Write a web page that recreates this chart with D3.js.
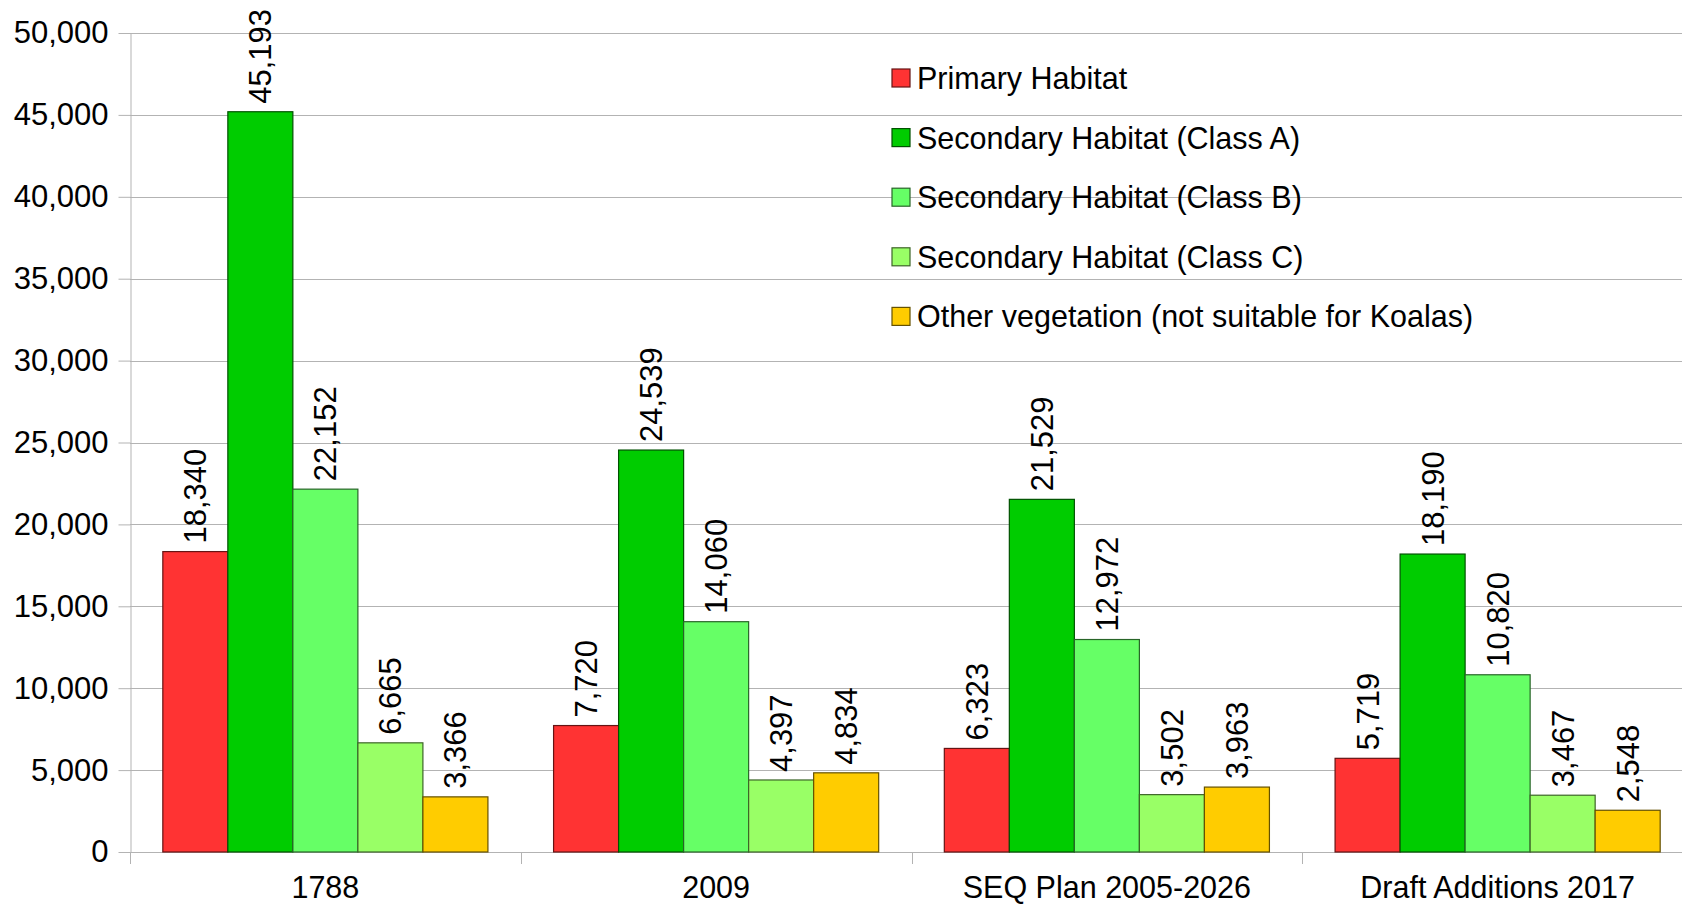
<!DOCTYPE html>
<html>
<head>
<meta charset="utf-8">
<script src="https://cdn.jsdelivr.net/npm/d3@7"></script>
<style>
  body { margin: 0; background: white; }
  text { font-family: "Liberation Sans", Arial, sans-serif; fill: black; }
</style>
</head>
<body>
<svg id="chart" width="1682" height="905"></svg>
<script>

var categories = ["1788", "2009", "SEQ Plan 2005-2026", "Draft Additions 2017"];
var series = ["Primary Habitat", "Secondary Habitat (Class A)", "Secondary Habitat (Class B)",
              "Secondary Habitat (Class C)", "Other vegetation (not suitable for Koalas)"];
var colors = ["#ff3333", "#00cc00", "#66ff66", "#99ff66", "#ffcc00"];

var primary = [18340, 7720, 6323, 5719];
var classA  = [45193, 24539, 21529, 18190];
var classB  = [22152, 14060, 12972, 10820];
var classC  = [6665, 4397, 3502, 3467];
var other   = [3366, 4834, 3963, 2548];

var yTicks = [0, 5000, 10000, 15000, 20000, 25000, 30000, 35000, 40000, 45000, 50000];

var values = [primary, classA, classB, classC, other];

var svg = d3.select("#chart");

var plotLeft = 130, plotRight = 1693, plotTop = 33, plotBottom = 852;

var x = d3.scaleBand()
    .domain(categories)
    .range([plotLeft, plotRight]);

var pad = x.bandwidth() * 0.084;
var xSub = d3.scaleBand()
    .domain(series)
    .range([pad, x.bandwidth() - pad]);

var y = d3.scaleLinear()
    .domain([0, 50000])
    .range([plotBottom, plotTop]);

var fmt = d3.format(",");

/* grid lines */
svg.append("g")
    .selectAll("line")
    .data(yTicks)
    .join("line")
    .attr("x1", plotLeft)
    .attr("x2", 1682)
    .attr("y1", function(d){ return Math.round(y(d)) + 0.5; })
    .attr("y2", function(d){ return Math.round(y(d)) + 0.5; })
    .attr("stroke", "#b3b3b3")
    .attr("stroke-width", 1);

/* y axis */
var yAxis = d3.axisLeft(y)
    .tickValues(yTicks)
    .tickFormat(fmt)
    .tickSize(12)
    .tickSizeOuter(0)
    .tickPadding(10);

var gy = svg.append("g")
    .attr("transform", "translate(" + (plotLeft + 0.5) + ",0)")
    .call(yAxis);
gy.select(".domain").attr("stroke", "#b3b3b3");
gy.selectAll(".tick line").attr("stroke", "#b3b3b3");
gy.selectAll(".tick text")
    .attr("font-size", 31)
    .attr("font-family", "Liberation Sans, Arial, sans-serif")
    .attr("fill", "black");

/* x axis category boundaries */
var bounds = categories.map(function(c){ return x(c); }).concat([plotRight]);
svg.append("g")
    .selectAll("line")
    .data(bounds)
    .join("line")
    .attr("x1", function(d){ return Math.round(d) + 0.5; })
    .attr("x2", function(d){ return Math.round(d) + 0.5; })
    .attr("y1", plotBottom)
    .attr("y2", plotBottom + 12)
    .attr("stroke", "#b3b3b3");

svg.append("g")
    .selectAll("text")
    .data(categories)
    .join("text")
    .attr("x", function(d){ return x(d) + x.bandwidth() / 2; })
    .attr("y", 898)
    .attr("text-anchor", "middle")
    .attr("font-size", 30.5)
    .text(function(d){ return d; });

/* bars */
var groups = svg.append("g")
    .selectAll("g")
    .data(series)
    .join("g");

groups.each(function(s, si){
  var g = d3.select(this);
  var rows = categories.map(function(c, ci){ return {cat: c, v: values[si][ci]}; });

  g.selectAll("rect")
    .data(rows)
    .join("rect")
    .attr("x", function(d){ return x(d.cat) + xSub(s); })
    .attr("y", function(d){ return y(d.v); })
    .attr("width", xSub.bandwidth())
    .attr("height", function(d){ return y(0) - y(d.v); })
    .attr("fill", colors[si])
    .attr("stroke", d3.color(colors[si]).darker(2.6))
    .attr("stroke-width", 1.2);

  g.selectAll("text")
    .data(rows)
    .join("text")
    .attr("transform", function(d){
      var cx = x(d.cat) + xSub(s) + xSub.bandwidth() / 2 + 11;
      return "translate(" + cx + "," + (y(d.v) - 8) + ") rotate(-90)";
    })
    .attr("font-size", 31)
    .text(function(d){ return fmt(d.v); });
});

/* legend */
var legend = svg.append("g")
    .selectAll("g")
    .data(series)
    .join("g")
    .attr("transform", function(d, i){ return "translate(892," + (78 + i * 59.6) + ")"; });

legend.append("rect")
    .attr("x", 0)
    .attr("y", -9)
    .attr("width", 18)
    .attr("height", 18)
    .attr("fill", function(d, i){ return colors[i]; })
    .attr("stroke", function(d, i){ return d3.color(colors[i]).darker(2.6); })
    .attr("stroke-width", 1.2);

legend.append("text")
    .attr("x", 25)
    .attr("y", 11)
    .attr("font-size", 30.5)
    .text(function(d){ return d; });

</script>
</body>
</html>
